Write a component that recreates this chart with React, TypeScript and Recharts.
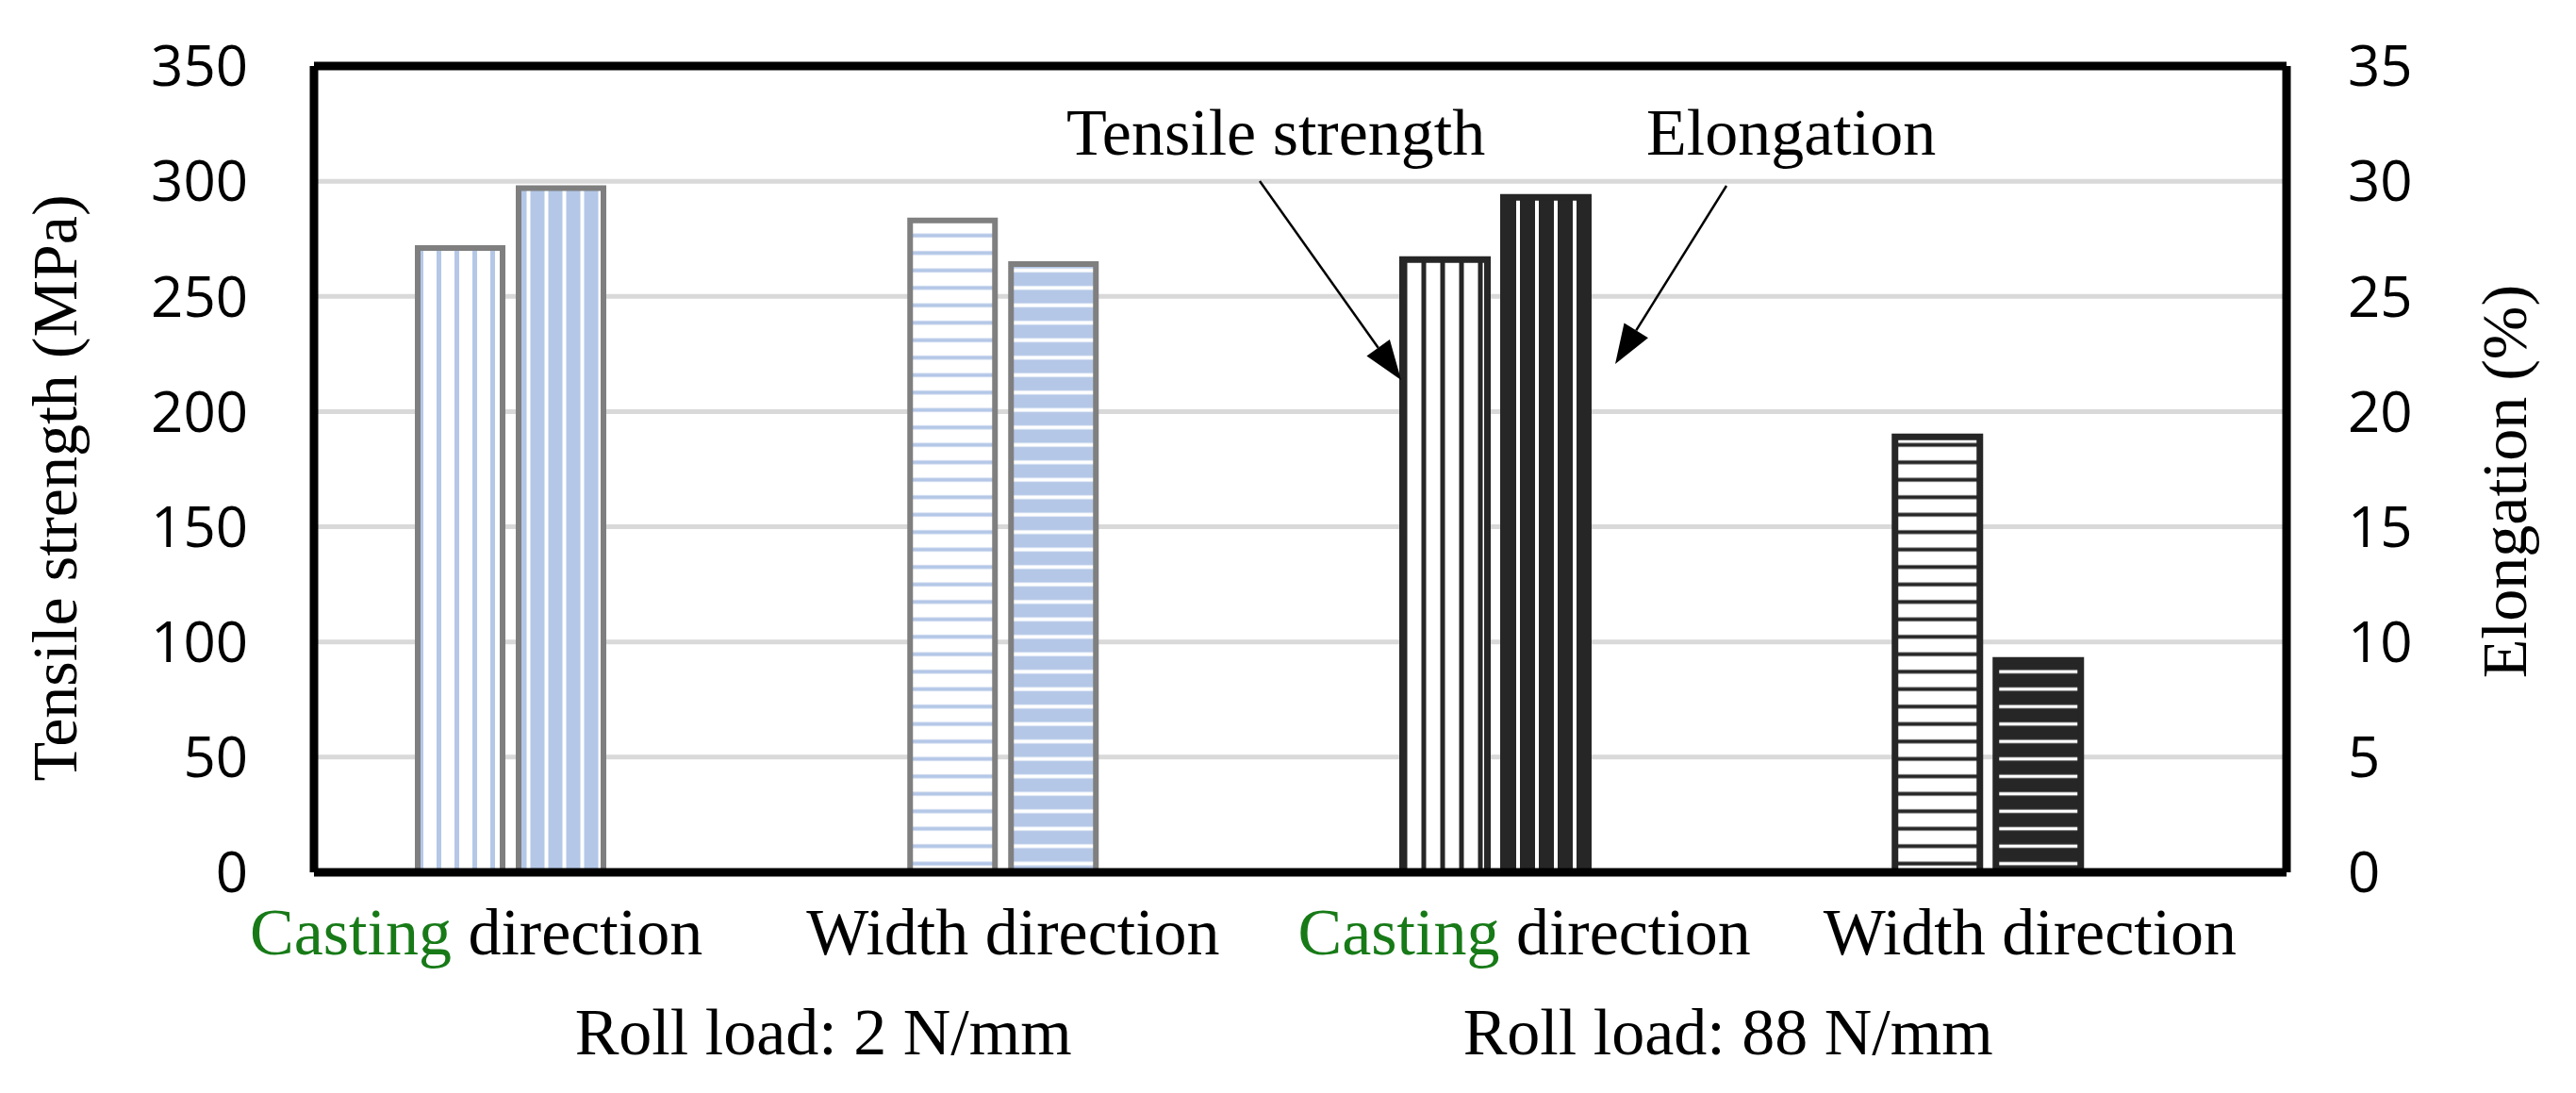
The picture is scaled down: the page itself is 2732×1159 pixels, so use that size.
import React from "react";
import { Bar, BarChart, CartesianGrid, Cell, XAxis, YAxis } from "recharts";

// values
const categories = ["Casting direction", "Width direction", "Casting direction", "Width direction"];
const rollLoads = ["Roll load: 2 N/mm", "Roll load: 88 N/mm"];
const tensileStrength = [271, 283, 266, 189];
const elongation = [29.7, 26.4, 29.3, 9.2];
const leftTicks = [0, 50, 100, 150, 200, 250, 300, 350];
const rightTicks = [0, 5, 10, 15, 20, 25, 30, 35];

const data = categories.map((name, i) => ({
  name,
  tensile: tensileStrength[i],
  elong: elongation[i],
}));

const SERIF = "'Liberation Serif', 'Times New Roman', serif";
const SANS = "'Open Sans', sans-serif";
const BLUE = "#b4c7e7";
const DARK = "#262626";
const GREEN = "#177a17";

// small nudges, the labels in the figure are not exactly under the bars
const labelNudge = [-36, 11, 31, 45];
const rollNudge = [332, 247];

const tensileFills = ["url(#p1)", "url(#p3)", "url(#p5)", "url(#p7)"];
const elongFills = ["url(#p2)", "url(#p4)", "url(#p6)", "url(#p8)"];
const strokes = ["#7f7f7f", "#7f7f7f", DARK, DARK];
const strokeW = [6, 6, 7, 7];

function CatTick(props: any) {
  const { x, y, payload } = props;
  const i = payload.index ?? props.index;
  const name: string = categories[i];
  const first = name.split(" ")[0];
  const rest = name.slice(first.length);
  return (
    <g>
      <text x={x + labelNudge[i]} y={y + 87} textAnchor="middle" fontFamily={SERIF} fontSize={70}>
        <tspan fill={first === "Casting" ? GREEN : "#000"}>{first}</tspan>
        <tspan fill="#000">{rest}</tspan>
      </text>
      {i % 2 === 0 && (
        <text x={x + rollNudge[i / 2]} y={y + 193} textAnchor="middle" fontFamily={SERIF} fontSize={70} fill="#000">
          {rollLoads[i / 2]}
        </text>
      )}
    </g>
  );
}

function arrow(ax: number, ay: number, tx: number, ty: number) {
  const dx = tx - ax;
  const dy = ty - ay;
  const len = Math.hypot(dx, dy);
  const ux = dx / len;
  const uy = dy / len;
  const bx = tx - ux * 42;
  const by = ty - uy * 42;
  const nx = -uy * 15;
  const ny = ux * 15;
  return (
    <g>
      <line x1={ax} y1={ay} x2={bx} y2={by} stroke="#000" strokeWidth={2.5} />
      <polygon points={`${tx},${ty} ${bx + nx},${by + ny} ${bx - nx},${by - ny}`} fill="#000" />
    </g>
  );
}

function stripes(id: string, bg: string, fg: string, vertical: boolean, period: number, w: number) {
  return (
    <pattern
      id={id}
      patternUnits="userSpaceOnUse"
      width={vertical ? period : 10}
      height={vertical ? 10 : period}
    >
      <rect width={vertical ? period : 10} height={vertical ? 10 : period} fill={bg} />
      {vertical ? (
        <rect x={period / 2 - w / 2} y={0} width={w} height={10} fill={fg} />
      ) : (
        <rect x={0} y={period / 2 - w / 2} width={10} height={w} fill={fg} />
      )}
    </pattern>
  );
}

export default function App() {
  return (
    <div style={{ position: "absolute", left: 0, top: 0, width: 2732, height: 1159, background: "#fff" }}>
      <BarChart
        width={2732}
        height={1159}
        data={data}
        margin={{ top: 60, right: 7, bottom: 0, left: 33 }}
        barSize={90}
        barGap={17}
      >
        <defs>
          {stripes("p1", "#fff", BLUE, true, 19, 5)}
          {stripes("p2", BLUE, "#fff", true, 19, 4)}
          {stripes("p3", "#fff", BLUE, false, 18.5, 4)}
          {stripes("p4", BLUE, "#fff", false, 18.5, 4)}
          {stripes("p5", "#fff", DARK, true, 20, 5)}
          {stripes("p6", DARK, "#fff", true, 20, 4)}
          {stripes("p7", "#fff", DARK, false, 18.5, 4)}
          {stripes("p8", DARK, "#fff", false, 18.5, 3.5)}
        </defs>
        <CartesianGrid yAxisId="left" vertical={false} stroke="#d9d9d9" strokeWidth={5} />
        <XAxis
          dataKey="name"
          height={234}
          interval={0}
          tickLine={false}
          tickSize={0}
          tickMargin={0}
          padding={{ left: -53, right: 56 }}
          axisLine={{ stroke: "#000", strokeWidth: 9 }}
          tick={<CatTick />}
        />
        <XAxis
          xAxisId="top"
          orientation="top"
          dataKey="name"
          height={10}
          tick={false}
          tickLine={false}
          axisLine={{ stroke: "#000", strokeWidth: 9 }}
        />
        <YAxis
          yAxisId="left"
          width={300}
          domain={[0, 350]}
          ticks={leftTicks}
          tickLine={false}
          tickSize={0}
          tickMargin={70}
          axisLine={{ stroke: "#000", strokeWidth: 9 }}
          tick={{ fill: "#000", fontFamily: SANS, fontSize: 60 }}
          label={(p: any) => {
            const vb = p.viewBox;
            const cx = vb.x + 25;
            const cy = vb.y + vb.height / 2 + 20;
            return (
              <text x={cx} y={cy} transform={`rotate(-90 ${cx} ${cy})`} textAnchor="middle" dominantBaseline="central" fontFamily={SERIF} fontSize={68} fill="#000">
                Tensile strength (MPa)
              </text>
            );
          }}
        />
        <YAxis
          yAxisId="right"
          orientation="right"
          width={300}
          domain={[0, 35]}
          ticks={rightTicks}
          tickLine={false}
          tickSize={0}
          tickMargin={65}
          axisLine={{ stroke: "#000", strokeWidth: 9 }}
          tick={{ fill: "#000", fontFamily: SANS, fontSize: 60 }}
          label={(p: any) => {
            const vb = p.viewBox;
            const cx = vb.x + 231;
            const cy = vb.y + vb.height / 2 + 13;
            return (
              <text x={cx} y={cy} transform={`rotate(-90 ${cx} ${cy})`} textAnchor="middle" dominantBaseline="central" fontFamily={SERIF} fontSize={68} fill="#000">
                Elongation (%)
              </text>
            );
          }}
        />
        <Bar dataKey="tensile" yAxisId="left" isAnimationActive={false}>
          {data.map((d, i) => (
            <Cell key={`t${i}`} fill={tensileFills[i]} stroke={strokes[i]} strokeWidth={strokeW[i]} />
          ))}
        </Bar>
        <Bar dataKey="elong" yAxisId="right" isAnimationActive={false}>
          {data.map((d, i) => (
            <Cell key={`e${i}`} fill={elongFills[i]} stroke={strokes[i]} strokeWidth={strokeW[i]} />
          ))}
        </Bar>
      </BarChart>
      <svg
        width={2732}
        height={1159}
        style={{ position: "absolute", left: 0, top: 0, pointerEvents: "none" }}
      >
        <text x={1131} y={164} fontFamily={SERIF} fontSize={70} fill="#000">
          Tensile strength
        </text>
        <text x={1746} y={164} fontFamily={SERIF} fontSize={70} fill="#000">
          Elongation
        </text>
        {arrow(1336, 192, 1486, 403)}
        {arrow(1831, 197, 1713, 386)}
      </svg>
    </div>
  );
}
